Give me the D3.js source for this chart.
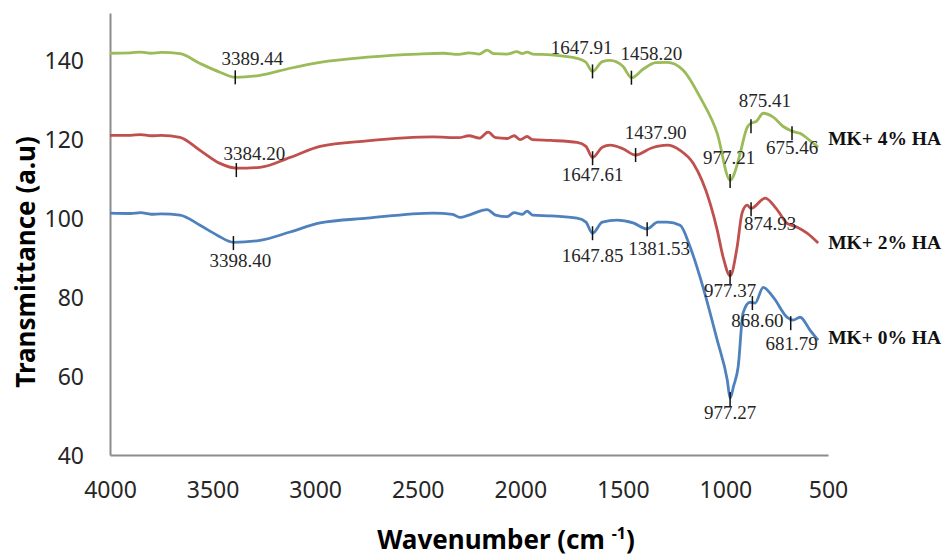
<!DOCTYPE html>
<html>
<head>
<meta charset="utf-8">
<script src="https://cdn.jsdelivr.net/npm/d3@7"></script>
<style>
  body { margin: 0; background: #fff; }
  svg { display: block; }
  .tick text { font-family: "Noto Sans", sans-serif; font-size: 23px; fill: #262626; }
  .peak { font-family: "Liberation Serif", serif; font-size: 19px; fill: #262626; }
  .legend { font-family: "Liberation Serif", serif; font-size: 19.5px; font-weight: bold; fill: #111; }
  .title { font-family: "Noto Sans", sans-serif; font-size: 26px; font-weight: bold; fill: #000; }
</style>
</head>
<body>
<svg id="chart" width="943" height="559"></svg>
<script>
// x ticks (cm-1) and y ticks
const xTicks = [4000, 3500, 3000, 2500, 2000, 1500, 1000, 500];
const yTicks = [40, 60, 80, 100, 120, 140];

const seriesNames = ['MK+ 4% HA', 'MK+ 2% HA', 'MK+ 0% HA'];

// [wavenumber, transmittance]
const ha4 = [
  [4000, 141.8], [3900, 141.9], [3850, 142.1], [3800, 141.8], [3750, 142.0], [3659, 141.7],
  [3561, 139.2], [3464, 137.0], [3389, 135.7], [3269, 136.2], [3122, 138.0], [2976, 139.5],
  [2747, 140.8], [2500, 141.6], [2376, 141.8], [2300, 141.5], [2250, 141.9], [2200, 141.6],
  [2162, 142.6], [2130, 141.7], [2064, 141.6], [2016, 142.2], [1990, 141.7], [1967, 142.1],
  [1940, 141.6], [1850, 141.4], [1723, 140.5], [1680, 139.5], [1648, 137.2], [1600, 139.7],
  [1562, 140.0], [1500, 138.5], [1458, 135.6], [1400, 137.8], [1340, 139.4], [1284, 139.5],
  [1206, 137.5], [1123, 130.6], [1040, 121.5], [977, 109.6], [943, 113.5], [928, 116.5],
  [894, 123.0], [875, 124.1], [850, 124.5], [816, 126.6], [767, 125.6], [720, 123.3],
  [685, 122.3], [660, 121.8], [636, 121.5], [600, 120.2], [572, 119.0], [548, 118.0]
];
const ha2 = [
  [4000, 121.0], [3900, 121.0], [3850, 121.2], [3800, 120.9], [3750, 121.0], [3659, 120.5],
  [3561, 117.2], [3464, 113.9], [3384, 112.7], [3269, 112.9], [3122, 115.4], [2976, 118.2],
  [2747, 119.6], [2425, 120.6], [2300, 120.4], [2250, 120.9], [2200, 120.3], [2157, 121.8],
  [2120, 120.4], [2064, 120.2], [2030, 120.9], [2000, 119.9], [1967, 120.7], [1940, 119.9],
  [1850, 119.7], [1723, 119.2], [1680, 118.2], [1648, 115.4], [1600, 118.0], [1562, 118.5],
  [1500, 117.6], [1438, 116.0], [1360, 117.8], [1284, 118.5], [1221, 117.2], [1157, 113.9],
  [1075, 103.8], [1040, 97.0], [1011, 90.1], [977, 85.4], [943, 92.7], [919, 101.3],
  [894, 103.3], [875, 102.5], [806, 105.1], [753, 102.5], [699, 98.7], [650, 97.7],
  [602, 96.2], [548, 93.7]
];
const ha0 = [
  [4000, 101.3], [3900, 101.2], [3850, 101.4], [3800, 101.0], [3750, 101.1], [3659, 100.8],
  [3561, 98.2], [3478, 95.7], [3398, 93.9], [3269, 94.4], [3122, 96.5], [2976, 98.8],
  [2747, 100.0], [2425, 101.3], [2330, 101.0], [2294, 100.2], [2250, 100.8], [2162, 102.2],
  [2120, 100.8], [2064, 100.4], [2030, 101.4], [1990, 101.0], [1967, 101.8], [1940, 100.8],
  [1850, 100.6], [1723, 100.0], [1680, 99.0], [1648, 96.2], [1600, 99.0], [1528, 99.5],
  [1450, 98.8], [1382, 97.3], [1330, 99.0], [1284, 99.0], [1221, 98.2], [1172, 92.7],
  [1109, 82.5], [1040, 69.1], [991, 59.0], [977, 54.4], [960, 57.5], [938, 62.3], [914, 76.0],
  [880, 78.7], [855, 78.5], [816, 82.5], [767, 80.0], [699, 74.9], [670, 74.2],
  [636, 74.9], [587, 71.6], [548, 69.1]
];

// peak annotations: [series index, wavenumber, transmittance, label]
const peaks = [
  [0, 3389.44, 135.7, '3389.44'], [0, 1647.91, 137.2, '1647.91'], [0, 1458.20, 135.6, '1458.20'],
  [0, 977.21, 109.4, '977.21'], [0, 875.41, 123.3, '875.41'], [0, 675.46, 121.5, '675.46'],
  [1, 3384.20, 112.2, '3384.20'], [1, 1647.61, 115.2, '1647.61'], [1, 1437.90, 116.0, '1437.90'],
  [1, 977.37, 85.1, '977.37'], [1, 874.93, 102.3, '874.93'],
  [2, 3398.40, 93.7, '3398.40'], [2, 1647.85, 96.2, '1647.85'], [2, 1381.53, 97.2, '1381.53'],
  [2, 977.27, 54.2, '977.27'], [2, 868.60, 78.5, '868.60'], [2, 681.79, 73.4, '681.79']
];

// label text offsets from the tick (px), same order as peaks
const peakOffsets = [
  [17, -19], [-11, -24], [20, -24], [-1, -24], [14, -26], [0, 14],
  [18, -17], [0, 16], [20, -23], [0, 13], [19, 14],
  [7, 17], [0, 22], [12, 19], [0, 14], [5, 17], [1, 20]
];
const legendDy = [-9, -1, -3];
const colors = ['#9bbb59', '#c0504d', '#4f81bd'];

const svg = d3.select('#chart');

const x = d3.scaleLinear().domain([4000, 500]).range([110, 828]);
const y = d3.scaleLinear().domain([40, 152]).range([455, 13]);

// axes
const xAxis = svg.append('g')
  .attr('transform', `translate(0,${y(40)})`)
  .call(d3.axisBottom(x).tickValues(xTicks).tickSize(0).tickPadding(33).tickFormat(d3.format('d')));
const yAxis = svg.append('g')
  .attr('transform', `translate(${x(4000)},0)`)
  .call(d3.axisLeft(y).tickValues(yTicks).tickSize(0).tickPadding(26));
[xAxis, yAxis].forEach(a => {
  a.select('.domain').attr('stroke', '#8c8c8c').attr('stroke-width', 2);
});
xAxis.selectAll('.tick text').attr('dy', '0.42em');
yAxis.selectAll('.tick text').attr('dy', '0.36em');

// spectra
const line = d3.line()
  .x(d => x(d[0]))
  .y(d => y(d[1]))
  .curve(d3.curveMonotoneX);

const allSeries = [ha4, ha2, ha0];
svg.append('g').selectAll('path')
  .data(allSeries)
  .join('path')
  .attr('fill', 'none')
  .attr('stroke', (d, i) => colors[i])
  .attr('stroke-width', 2.8)
  .attr('stroke-linejoin', 'round')
  .attr('d', line);

// peak ticks + labels
const pk = svg.append('g');
pk.selectAll('line')
  .data(peaks)
  .join('line')
  .attr('x1', d => x(d[1])).attr('x2', d => x(d[1]))
  .attr('y1', d => y(d[2]) - 7).attr('y2', d => y(d[2]) + 7)
  .attr('stroke', '#111')
  .attr('stroke-width', 1.5);

pk.selectAll('text')
  .data(peaks)
  .join('text')
  .attr('class', 'peak')
  .attr('x', (d, i) => x(d[1]) + peakOffsets[i][0])
  .attr('y', (d, i) => y(d[2]) + peakOffsets[i][1])
  .attr('text-anchor', 'middle')
  .attr('dominant-baseline', 'central')
  .text(d => d[3]);

// series names at the line ends
svg.append('g').selectAll('text')
  .data(allSeries)
  .join('text')
  .attr('class', 'legend')
  .attr('x', d => x(d[d.length - 1][0]) + 10)
  .attr('y', (d, i) => y(d[d.length - 1][1]) + legendDy[i])
  .attr('dominant-baseline', 'central')
  .text((d, i) => seriesNames[i]);

// axis titles
const xt = svg.append('text')
  .attr('class', 'title')
  .attr('x', 506)
  .attr('y', 549)
  .attr('text-anchor', 'middle');
xt.append('tspan').text('Wavenumber  (cm ');
xt.append('tspan').attr('font-size', '16px').attr('dy', '-10').text('-1');
xt.append('tspan').attr('dy', '10').text(')');

svg.append('text')
  .attr('class', 'title')
  .attr('transform', 'translate(35,262) rotate(-90)')
  .attr('text-anchor', 'middle')
  .text('Transmittance (a.u)');
</script>
</body>
</html>
